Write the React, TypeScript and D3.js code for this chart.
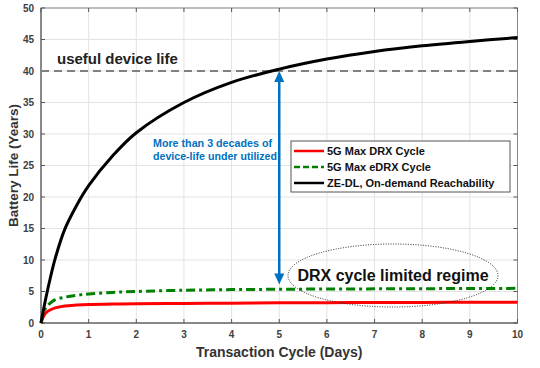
import React from 'react'
import * as d3 from 'd3'

// transaction cycle (days) where the curves were read
const days = [0, 0.05, 0.1, 0.2, 0.3, 0.5, 0.75, 1, 1.5, 2, 3, 4, 5, 6, 7, 8, 9, 10]
// battery life (years)
const drxLife = [0, 1.0, 1.6, 2.1, 2.4, 2.7, 2.85, 2.95, 3.0, 3.05, 3.1, 3.15, 3.2, 3.22, 3.25, 3.27, 3.28, 3.3]
const edrxLife = [0, 1.5, 2.4, 3.2, 3.7, 4.1, 4.4, 4.6, 4.85, 5.0, 5.2, 5.3, 5.35, 5.4, 5.42, 5.45, 5.47, 5.5]
const zeLife = [0, 2.0, 3.9, 7.3, 10.3, 14.9, 18.7, 21.8, 26.5, 30.2, 35.0, 38.2, 40.3, 41.9, 43.1, 44.0, 44.7, 45.3]

const xTicks = [0, 1, 2, 3, 4, 5, 6, 7, 8, 9, 10]
const yTicks = [0, 5, 10, 15, 20, 25, 30, 35, 40, 45, 50]

const seriesNames = ['5G Max DRX Cycle', '5G Max eDRX Cycle', 'ZE-DL, On-demand Reachability']
const usefulLife = 40
const arrowDay = 5
const arrowBottom = 6.1

const W = 540, H = 368
const margin = {top: 8, right: 22.5, bottom: 45, left: 41}
const FONT = 'Arial, "Liberation Sans", sans-serif'

export default function App() {
  const x = d3.scaleLinear().domain([0, 10]).range([margin.left, W - margin.right])
  const y = d3.scaleLinear().domain([0, 50]).range([H - margin.bottom, margin.top])

  const mk = (vals: number[]) =>
    d3.line<number>()
      .x((_, i) => x(days[i]))
      .y(d => y(d))
      .curve(d3.curveCatmullRom.alpha(0.5))(vals) as string

  const styles = [
    {color: '#ff0000', dash: undefined, data: drxLife},
    {color: '#008000', dash: '9,4,3,4', data: edrxLife},
    {color: '#000000', dash: undefined, data: zeLife},
  ]

  const x0 = x(0), x1 = x(10), y0 = y(0), y1 = y(50)
  const ax = x(arrowDay)
  const aTop = y(usefulLife), aBot = y(arrowBottom)
  const blue = '#0070c0'

  // legend box
  const lg = {x: 291, y: 141, w: 219, h: 51}

  return (
    <div style={{position: 'absolute', left: 0, top: 0}}>
      <svg width={W} height={H} style={{display: 'block', background: '#fff'}}>
        <rect x={x0} y={y1} width={x1 - x0} height={y0 - y1} fill="#fff" />
        {/* grid */}
        {xTicks.map(t => (
          <line key={'gx' + t} x1={x(t)} x2={x(t)} y1={y1} y2={y0} stroke="#e3e3e3" strokeWidth={1} />
        ))}
        {yTicks.map(t => (
          <line key={'gy' + t} x1={x0} x2={x1} y1={y(t)} y2={y(t)} stroke="#e3e3e3" strokeWidth={1} />
        ))}
        {/* box + inward ticks */}
        <rect x={x0} y={y1} width={x1 - x0} height={y0 - y1} fill="none" stroke="#8a8a8a" strokeWidth={1} />
        {xTicks.map(t => (
          <g key={'tx' + t}>
            <line x1={x(t)} x2={x(t)} y1={y0} y2={y0 - 4} stroke="#555" />
            <line x1={x(t)} x2={x(t)} y1={y1} y2={y1 + 4} stroke="#555" />
            <text x={x(t)} y={y0 + 15} textAnchor="middle" fontFamily={FONT} fontSize={10}
              fontWeight="bold" fill="#404040">{t}</text>
          </g>
        ))}
        {yTicks.map(t => (
          <g key={'ty' + t}>
            <line x1={x0} x2={x0 + 4} y1={y(t)} y2={y(t)} stroke="#555" />
            <line x1={x1} x2={x1 - 4} y1={y(t)} y2={y(t)} stroke="#555" />
            <text x={x0 - 7} y={y(t) + 3.5} textAnchor="end" fontFamily={FONT} fontSize={10}
              fontWeight="bold" fill="#404040">{t}</text>
          </g>
        ))}
        <line x1={x0} x2={x0} y1={y1} y2={y0} stroke="#555" />
        <line x1={x0} x2={x1} y1={y0} y2={y0} stroke="#555" />

        {/* axis titles */}
        <text x={(x0 + x1) / 2} y={357} textAnchor="middle" fontFamily={FONT} fontSize={14}
          fontWeight="bold" fill="#333">Transaction Cycle (Days)</text>
        <text transform={`translate(18,${(y0 + y1) / 2}) rotate(-90)`} textAnchor="middle"
          fontFamily={FONT} fontSize={13.5} fontWeight="bold" fill="#333">Battery Life (Years)</text>

        {/* useful device life line */}
        <line x1={x0} x2={x1} y1={y(usefulLife)} y2={y(usefulLife)} stroke="#808080"
          strokeWidth={1.8} strokeDasharray="8,5" />
        <text x={57} y={64} fontFamily={FONT} fontSize={15} fontWeight="bold" fill="#222">useful device life</text>

        {/* series */}
        {styles.map((s, i) => (
          <path key={i} d={mk(s.data)} fill="none" stroke={s.color} strokeWidth={3}
            strokeDasharray={s.dash} strokeLinejoin="round" />
        ))}

        {/* double arrow */}
        <line x1={ax} x2={ax} y1={aTop + 9} y2={aBot - 9} stroke={blue} strokeWidth={2.5} />
        <path d={`M${ax},${aTop} L${ax - 5},${aTop + 11} L${ax + 5},${aTop + 11} Z`} fill={blue} />
        <path d={`M${ax},${aBot} L${ax - 5},${aBot - 11} L${ax + 5},${aBot - 11} Z`} fill={blue} />
        <text x={153} y={147} fontFamily={FONT} fontSize={11} fontWeight="bold" fill={blue}
          textLength={119} lengthAdjust="spacingAndGlyphs">More than 3 decades of</text>
        <text x={153} y={160} fontFamily={FONT} fontSize={11} fontWeight="bold" fill={blue}
          textLength={124} lengthAdjust="spacingAndGlyphs">device-life under utilized</text>

        {/* legend */}
        <rect x={lg.x} y={lg.y} width={lg.w} height={lg.h} fill="#fff" stroke="#555" strokeWidth={1} />
        {seriesNames.map((n, i) => {
          const ly = lg.y + 10 + i * 16
          return (
            <g key={n}>
              <line x1={lg.x + 3} x2={lg.x + 33} y1={ly} y2={ly} stroke={styles[i].color}
                strokeWidth={2.5} strokeDasharray={i === 1 ? '6,3' : undefined} />
              <text x={lg.x + 36} y={ly + 4} fontFamily={FONT} fontSize={11} fontWeight="bold"
                fill="#111">{n}</text>
            </g>
          )
        })}

        {/* regime ellipse */}
        <ellipse cx={393} cy={275.5} rx={105} ry={31.5} fill="none" stroke="#222"
          strokeWidth={1} strokeDasharray="1,1.5" />
        <text x={393} y={281} textAnchor="middle" fontFamily={FONT} fontSize={16} fontWeight="bold"
          fill="#111">DRX cycle limited regime</text>
      </svg>
    </div>
  )
}
